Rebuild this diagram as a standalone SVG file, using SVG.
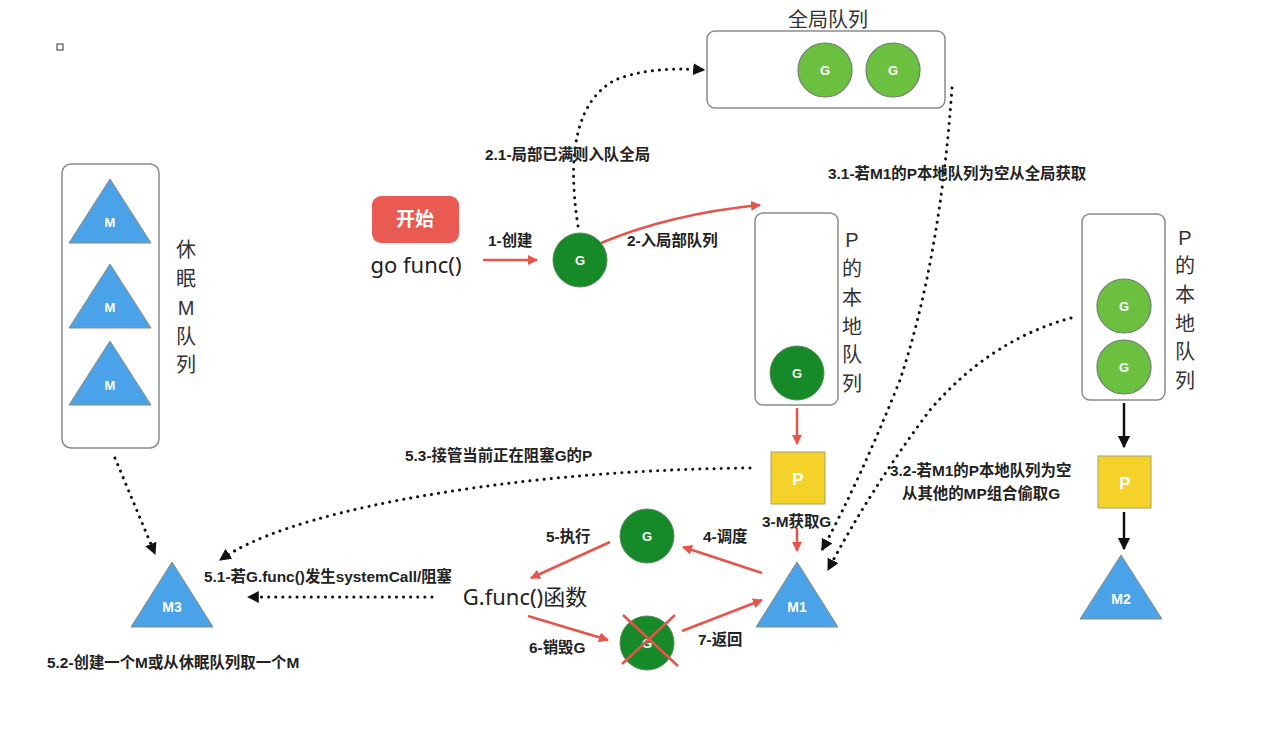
<svg xmlns="http://www.w3.org/2000/svg" width="1283" height="736" viewBox="0 0 1283 736">
<defs>
<marker id="ra" viewBox="0 0 10 10" refX="9" refY="5" markerWidth="4" markerHeight="4" orient="auto"><path d="M0,0 L10,5 L0,10 z" fill="#e8534a"/></marker>
<marker id="ba" viewBox="0 0 10 10" refX="9" refY="5" markerWidth="5" markerHeight="5" orient="auto"><path d="M0,0 L10,5 L0,10 z" fill="#111"/></marker>
<marker id="da" viewBox="0 0 10 10" refX="9" refY="5" markerWidth="4" markerHeight="4" orient="auto"><path d="M0,0 L10,5 L0,10 z" fill="#111"/></marker>
<style>
.box{fill:#fff;stroke:#8a8a8a;stroke-width:1.5}
.gd{fill:#168a28;stroke:#5a8a5a;stroke-width:1}
.gl{fill:#6cc040;stroke:#6e7d6e;stroke-width:1.2}
.tri{fill:#4aa2e8;stroke:#8a8a7a;stroke-width:1}
.p{fill:#f4d22a;stroke:#a8a070;stroke-width:1}
.wt{fill:#fff;font-family:"Liberation Sans","Noto Sans CJK SC",sans-serif;font-weight:bold;text-anchor:middle}
.lb{fill:#222;font-family:"Liberation Sans","Noto Sans CJK SC",sans-serif;font-weight:bold;font-size:15.4px}
.vt{fill:#333;font-family:"Liberation Sans","Noto Sans CJK SC",sans-serif;font-size:20px;text-anchor:middle}
.big{fill:#222;font-family:"Noto Sans","Noto Sans CJK SC",sans-serif;font-size:22px}
.red{stroke:#e8534a;stroke-width:2.5;fill:none;marker-end:url(#ra)}
.blk{stroke:#111;stroke-width:2.5;fill:none;marker-end:url(#ba)}
.dot{stroke:#111;stroke-width:3;stroke-dasharray:0.1 7;stroke-linecap:round;fill:none;marker-end:url(#da)}
</style>
</defs>
<rect x="57" y="44" width="6" height="6" fill="#fff" stroke="#333" stroke-width="1"/>

<g id="global-queue">
<text x="828" y="27" class="vt" font-size="19">全局队列</text>
<rect x="707" y="31" width="238" height="77" rx="8" class="box"/>
<circle cx="825" cy="70" r="27" class="gl"/><text x="825" y="75" class="wt" font-size="13">G</text>
<circle cx="893" cy="70" r="27" class="gl"/><text x="893" y="75" class="wt" font-size="13">G</text>
</g>

<g id="start">
<rect x="372" y="196" width="87" height="47" rx="9" fill="#e85a52"/>
<text x="415" y="226" class="wt" font-size="19" font-weight="normal">开始</text>
<text x="416" y="273" class="big" text-anchor="middle">go func()</text>
</g>

<g id="g-new">
<circle cx="580" cy="260" r="27" class="gd"/><text x="580" y="265" class="wt" font-size="13">G</text>
</g>

<g id="local-queue-1">
<rect x="755" y="213" width="83" height="192" rx="8" class="box"/>
<circle cx="797" cy="373" r="27" class="gd"/><text x="797" y="378" class="wt" font-size="13">G</text>
<text class="vt"><tspan x="852" y="247">P</tspan><tspan x="852" y="276">的</tspan><tspan x="852" y="305">本</tspan><tspan x="852" y="334">地</tspan><tspan x="852" y="362">队</tspan><tspan x="852" y="391">列</tspan></text>
</g>

<g id="p1">
<rect x="771" y="452" width="54" height="52" class="p"/><text x="798" y="485" class="wt" font-size="17">P</text>
</g>

<g id="m1">
<path d="M797,562 L838,627 L756,627 Z" class="tri"/><text x="797" y="612" class="wt" font-size="14">M1</text>
</g>

<g id="local-queue-2">
<rect x="1082" y="214" width="83" height="186" rx="8" class="box"/>
<circle cx="1124" cy="306" r="27" class="gl"/><text x="1124" y="311" class="wt" font-size="13">G</text>
<circle cx="1124" cy="367" r="27" class="gl"/><text x="1124" y="372" class="wt" font-size="13">G</text>
<text class="vt"><tspan x="1185" y="245">P</tspan><tspan x="1185" y="273">的</tspan><tspan x="1185" y="302">本</tspan><tspan x="1185" y="331">地</tspan><tspan x="1185" y="359">队</tspan><tspan x="1185" y="388">列</tspan></text>
</g>

<g id="p2">
<rect x="1098" y="456" width="53" height="52" class="p"/><text x="1125" y="489" class="wt" font-size="17">P</text>
</g>

<g id="m2">
<path d="M1121,555 L1162,619 L1080,619 Z" class="tri"/><text x="1121" y="604" class="wt" font-size="14">M2</text>
</g>

<g id="sleep-queue">
<rect x="62" y="164" width="97" height="284" rx="9" class="box"/>
<path d="M110,179 L151,243 L69,243 Z" class="tri"/><text x="110" y="227" class="wt" font-size="13">M</text>
<path d="M110,264 L151,328 L69,328 Z" class="tri"/><text x="110" y="312" class="wt" font-size="13">M</text>
<path d="M110,341 L151,405 L69,405 Z" class="tri"/><text x="110" y="390" class="wt" font-size="13">M</text>
<text class="vt"><tspan x="186" y="257">休</tspan><tspan x="186" y="286">眠</tspan><tspan x="186" y="315">M</tspan><tspan x="186" y="344">队</tspan><tspan x="186" y="372">列</tspan></text>
</g>

<g id="m3">
<path d="M172,562 L213,627 L131,627 Z" class="tri"/><text x="172" y="612" class="wt" font-size="14">M3</text>
</g>

<g id="gfunc">
<text x="525" y="605" class="big" text-anchor="middle" font-size="23">G.func()函数</text>
</g>

<g id="g-run">
<circle cx="647" cy="536" r="27" class="gd"/><text x="647" y="541" class="wt" font-size="13">G</text>
</g>

<g id="g-dead">
<circle cx="647" cy="643" r="27" class="gd"/><text x="647" y="648" class="wt" font-size="13">G</text>
<path d="M623,615 L678,666 M675,615 L622,664" stroke="#e8534a" stroke-width="2.5" fill="none"/>
</g>

<g id="connectors">
<path d="M483,260 L537,260" class="red"/>
<path d="M601,243 Q670,214 760,205" class="red"/>
<path d="M797,408 L797,444" class="red"/>
<path d="M797,528 L797,551" class="red"/>
<path d="M762,573 L683,547" class="red"/>
<path d="M610,542 L531,578" class="red"/>
<path d="M528,616 L608,640" class="red"/>
<path d="M682,631 L762,600" class="red"/>
<path d="M1124,403 L1124,447" class="blk"/>
<path d="M1124,512 L1124,549" class="blk"/>
<path d="M578,226 Q560,110 615,80 Q650,66 704,70" class="dot"/>
<path d="M952,88 Q940,260 900,380 Q860,480 822,550" class="dot"/>
<path d="M1071,318 Q990,340 930,410 Q870,490 828,570" class="dot"/>
<path d="M115,458 L155,554" class="dot"/>
<path d="M750,468 Q560,470 400,500 Q270,525 220,560" class="dot"/>
<path d="M432,597 L248,597" class="dot"/>
</g>

<g id="labels">
<text x="485" y="160" class="lb">2.1-局部已满则入队全局</text>
<text x="828" y="179" class="lb">3.1-若M1的P本地队列为空从全局获取</text>
<text x="488" y="246" class="lb">1-创建</text>
<text x="627" y="246" class="lb">2-入局部队列</text>
<text x="762" y="527" class="lb">3-M获取G</text>
<text x="890" y="476" class="lb">3.2-若M1的P本地队列为空</text>
<text x="902" y="499" class="lb">从其他的MP组合偷取G</text>
<text x="405" y="461" class="lb">5.3-接管当前正在阻塞G的P</text>
<text x="204" y="582" class="lb">5.1-若G.func()发生systemCall/阻塞</text>
<text x="47" y="668" class="lb">5.2-创建一个M或从休眠队列取一个M</text>
<text x="546" y="542" class="lb">5-执行</text>
<text x="703" y="542" class="lb">4-调度</text>
<text x="529" y="653" class="lb">6-销毁G</text>
<text x="698" y="645" class="lb">7-返回</text>
</g>
</svg>
